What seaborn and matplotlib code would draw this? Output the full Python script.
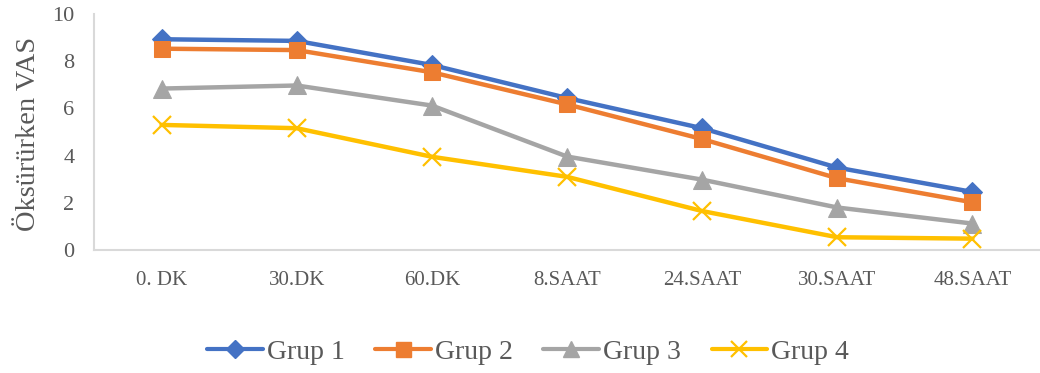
import matplotlib
matplotlib.use("Agg")
import matplotlib.pyplot as plt
import seaborn as sns
import pandas as pd

# Time points and VAS scores during coughing
time_points = ["0. DK", "30.DK", "60.DK", "8.SAAT", "24.SAAT", "30.SAAT", "48.SAAT"]
grup1 = [8.93, 8.86, 7.84, 6.44, 5.16, 3.49, 2.46]
grup2 = [8.53, 8.47, 7.53, 6.17, 4.70, 3.04, 2.02]
grup3 = [6.84, 6.97, 6.12, 3.96, 2.98, 1.80, 1.12]
grup4 = [5.30, 5.16, 3.95, 3.10, 1.65, 0.54, 0.48]
group_names = ["Grup 1", "Grup 2", "Grup 3", "Grup 4"]

series = [grup1, grup2, grup3, grup4]
df = pd.DataFrame({
    "zaman": time_points * len(series),
    "x": list(range(len(time_points))) * len(series),
    "vas": [v for s in series for v in s],
    "grup": [g for g, s in zip(group_names, series) for _ in s],
})

sns.set_theme(style="white")
plt.rcParams["font.family"] = ["Liberation Serif", "DejaVu Serif"]

colors = ["#4472C4", "#ED7D31", "#A5A5A5", "#FFC000"]
markers = ["D", "s", "^", "x"]
msizes = [10, 12, 13, 13]

fig = plt.figure(figsize=(10.4, 3.73), dpi=100)
ax = fig.add_axes([0.0904, 0.3298, 0.9096, 0.6327])

sns.lineplot(data=df, x="x", y="vas", hue="grup", palette=colors,
             linewidth=3.2, legend=False, ax=ax, sort=False)
for line, mk, ms, c in zip(ax.lines, markers, msizes, colors):
    line.set_marker(mk)
    line.set_markersize(ms)
    line.set_markerfacecolor(c)
    line.set_markeredgecolor(c)
    if mk == "x":
        line.set_markeredgewidth(1.6)

ax.set_xlim(-0.5, len(time_points) - 0.5)
ax.set_ylim(0, 10)
ax.set_yticks([0, 2, 4, 6, 8, 10])
ax.set_xticks(range(len(time_points)))
ax.set_xticklabels(time_points, fontsize=15, color="#595959")
ax.tick_params(axis="x", length=0, pad=15)
ax.tick_params(axis="y", length=0, pad=14, labelsize=16, labelcolor="#595959")
ax.set_xlabel("")
ax.set_ylabel("Öksürürken VAS", fontsize=20.5, color="#595959")
ax.yaxis.set_label_coords(-0.056, 0.49)

for side in ["top", "right"]:
    ax.spines[side].set_visible(False)
for side in ["left", "bottom"]:
    ax.spines[side].set_color("#D9D9D9")
    ax.spines[side].set_linewidth(1.5)
ax.grid(False)

handles = [plt.Line2D([0], [0], color=c, lw=3, marker=mk, markersize=ms * 0.9,
                      markerfacecolor=c, markeredgecolor=c,
                      markeredgewidth=1.6 if mk == "x" else 1.0)
           for c, mk, ms in zip(colors, markers, msizes)]
fig.legend(handles, group_names, loc="center", bbox_to_anchor=(0.5077, 0.056),
           ncol=4, frameon=False, fontsize=20, handlelength=2.0,
           columnspacing=1.1, handletextpad=0.15, labelcolor="#595959")

fig.savefig("out.png", dpi=100)
